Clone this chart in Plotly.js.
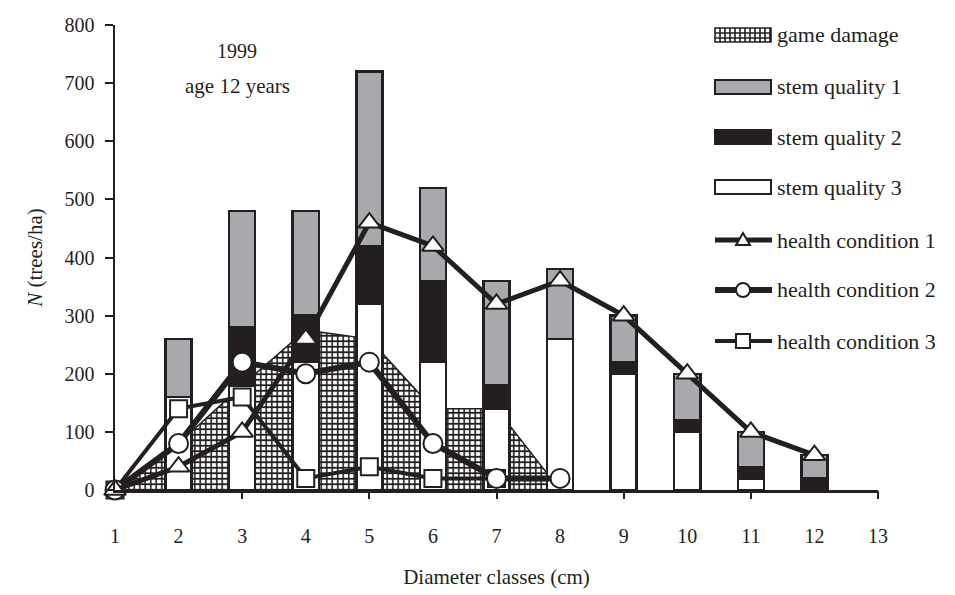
<!DOCTYPE html>
<html><head><meta charset="utf-8">
<script src="https://cdn.plot.ly/plotly-3.0.1.min.js"></script>
<style>html,body{margin:0;padding:0;background:#fff}</style>
</head><body><div id="chart" style="width:955px;height:595px"></div>
<script>
// ---- data ----
const classes = [1,2,3,4,5,6,7,8,9,10,11,12];
const tickValues = [1,2,3,4,5,6,7,8,9,10,11,12,13];
const tickLabels = ['1','2','3','4','5','6','7','8','9','10','11','12','13'];
const stemQuality3 = [0,160,180,220,320,220,140,260,200,100,20,0];
const stemQuality2 = [0,0,100,80,100,140,40,0,20,20,20,20];
const stemQuality1 = [0,100,200,180,300,160,180,120,80,80,60,40];
const gameDamage   = [0,80,180,275,260,140,140,0];
const health1 = [0,40,100,260,460,420,320,360,300,200,100,60];
const health2 = [0,80,220,200,220,80,20,20];
const health3 = [0,140,160,20,40,20,20];
const seriesNames = ['game damage','stem quality 1','stem quality 2','stem quality 3',
                     'health condition 1','health condition 2','health condition 3'];

// ---- style ----
const INK = '#231f20', GRAY = '#a7a9ac';
const FONT = 'Liberation Serif, Times New Roman, serif';
const L = 115, T = 25, W = 763, H = 465;
const px = x => (x - L) / W;
const py = y => (T + H - y) / H;

const traces = [
  { type:'scatter', x: classes.slice(0, gameDamage.length), y: gameDamage, name: seriesNames[0],
    mode:'lines', fill:'tozeroy', line:{color:INK, width:1.5},
    fillpattern:{shape:'+', size:5.5, solidity:0.5, fgcolor:INK, bgcolor:'#ffffff'},
    fillcolor:'#ffffff', xaxis:'x', yaxis:'y', hoverinfo:'skip' },
  { type:'bar', x: classes, y: stemQuality3, name: seriesNames[3], width:0.41,
    marker:{color:'#ffffff', line:{color:INK, width:2.5}}, xaxis:'x2', yaxis:'y2' },
  { type:'bar', x: classes, y: stemQuality2, name: seriesNames[2], width:0.41,
    marker:{color:INK, line:{color:INK, width:2.5}}, xaxis:'x2', yaxis:'y2' },
  { type:'bar', x: classes, y: stemQuality1, name: seriesNames[1], width:0.41,
    marker:{color:GRAY, line:{color:INK, width:2.5}}, xaxis:'x2', yaxis:'y2' },
  { type:'scatter', x: classes.slice(0, health3.length), y: health3, name: seriesNames[6],
    mode:'lines+markers', line:{color:INK, width:4}, cliponaxis:false,
    marker:{symbol:'square', size:17, color:'#ffffff', line:{color:INK, width:2}},
    xaxis:'x2', yaxis:'y2' },
  { type:'scatter', x: classes.slice(0, health2.length), y: health2, name: seriesNames[5],
    mode:'lines+markers', line:{color:INK, width:6}, cliponaxis:false,
    marker:{symbol:'circle', size:19, color:'#ffffff', line:{color:INK, width:2}},
    xaxis:'x2', yaxis:'y2' },
  { type:'scatter', x: classes.slice(0, health1.length), y: health1, name: seriesNames[4],
    mode:'lines+markers', line:{color:INK, width:5}, cliponaxis:false,
    marker:{symbol:'triangle-up', size:19, color:'#ffffff', line:{color:INK, width:2}},
    xaxis:'x2', yaxis:'y2' }
];

// ---- custom legend ----
const rows = [35, 87, 137, 187, 240, 290, 341];
const gx0 = 715, gx1 = 771, gxc = 743;
const shapes = [];
const annotations = [];
(function(){
  const y0 = rows[0] - 7, y1 = rows[0] + 7;
  let p = `M${px(gx0)},${py(y0)}L${px(gx1)},${py(y0)}L${px(gx1)},${py(y1)}L${px(gx0)},${py(y1)}Z`;
  for (let x = gx0 + 5; x < gx1; x += 5) p += `M${px(x)},${py(y0)}L${px(x)},${py(y1)}`;
  p += `M${px(gx0)},${py(rows[0]-2)}L${px(gx1)},${py(rows[0]-2)}`;
  p += `M${px(gx0)},${py(rows[0]+3)}L${px(gx1)},${py(rows[0]+3)}`;
  shapes.push({type:'path', xref:'paper', yref:'paper', path:p, fillcolor:'#ffffff', line:{color:INK, width:1.6}});
})();
[[GRAY,1],[INK,2],['#ffffff',3]].forEach(([c,i]) => {
  shapes.push({type:'rect', xref:'paper', yref:'paper', x0:px(gx0), x1:px(gx1),
    y0:py(rows[i]-7), y1:py(rows[i]+7), fillcolor:c, line:{color:INK, width:2}});
});
[[4,5],[5,6],[6,4]].forEach(([i,w]) => {
  shapes.push({type:'line', xref:'paper', yref:'paper', x0:px(gx0), x1:px(gx1+1),
    y0:py(rows[i]), y1:py(rows[i]), line:{color:INK, width:w}});
});
shapes.push({type:'path', xref:'paper', yref:'paper',
  path:`M${px(gxc-7)},${py(rows[4]+5)}L${px(gxc+7)},${py(rows[4]+5)}L${px(gxc)},${py(rows[4]-7)}Z`,
  fillcolor:'#ffffff', line:{color:INK, width:2}});
shapes.push({type:'circle', xref:'paper', yref:'paper', x0:px(gxc-7), x1:px(gxc+7),
  y0:py(rows[5]-7), y1:py(rows[5]+7), fillcolor:'#ffffff', line:{color:INK, width:2}});
shapes.push({type:'rect', xref:'paper', yref:'paper', x0:px(gxc-7), x1:px(gxc+7),
  y0:py(rows[6]-7), y1:py(rows[6]+7), fillcolor:'#ffffff', line:{color:INK, width:2}});
seriesNames.forEach((n,i) => {
  annotations.push({text:n, xref:'paper', yref:'paper', x:px(775), y:py(rows[i]),
    xanchor:'left', yanchor:'middle', showarrow:false, font:{family:FONT, size:22, color:INK}});
});
annotations.push({text:'1999', xref:'paper', yref:'paper', x:px(237), y:py(51),
  xanchor:'center', yanchor:'middle', showarrow:false, font:{family:FONT, size:20, color:INK}});
annotations.push({text:'age 12 years', xref:'paper', yref:'paper', x:px(237), y:py(86),
  xanchor:'center', yanchor:'middle', showarrow:false, font:{family:FONT, size:21, color:INK}});

const layout = {
  width:955, height:595,
  margin:{l:L, r:955-L-W, t:T, b:595-T-H},
  paper_bgcolor:'#ffffff', plot_bgcolor:'#ffffff',
  barmode:'stack', showlegend:false,
  font:{family:FONT, size:20, color:INK},
  xaxis:{range:[1,13], tickvals:tickValues, ticktext:tickLabels, ticks:'',
    ticklabelstandoff:26, showline:true, linecolor:INK, linewidth:2.5,
    showgrid:false, zeroline:false, automargin:false,
    tickfont:{family:FONT, size:20, color:INK},
    title:{text:'Diameter classes (cm)', standoff:24, font:{family:FONT, size:21, color:INK}}},
  yaxis:{range:[0,800], dtick:100, tick0:0, ticks:'outside', ticklen:8, tickwidth:2,
    tickcolor:INK, ticklabelstandoff:6, showline:true, linecolor:INK, linewidth:2.5,
    showgrid:false, zeroline:false, automargin:false,
    tickfont:{family:FONT, size:20, color:INK},
    title:{text:'<i>N</i> (trees/ha)', standoff:16, font:{family:FONT, size:21, color:INK}}},
  xaxis2:{overlaying:'x', anchor:'y2', side:'bottom', range:[1,13],
    tickvals:[3,5,7,9,11,13], ticks:'outside', ticklen:8, tickwidth:2, tickcolor:INK,
    showticklabels:false, showline:false, showgrid:false, zeroline:false},
  yaxis2:{overlaying:'y', range:[0,800], visible:false},
  shapes: shapes, annotations: annotations
};
Plotly.newPlot('chart', traces, layout, {staticPlot:true});
</script></body></html>
